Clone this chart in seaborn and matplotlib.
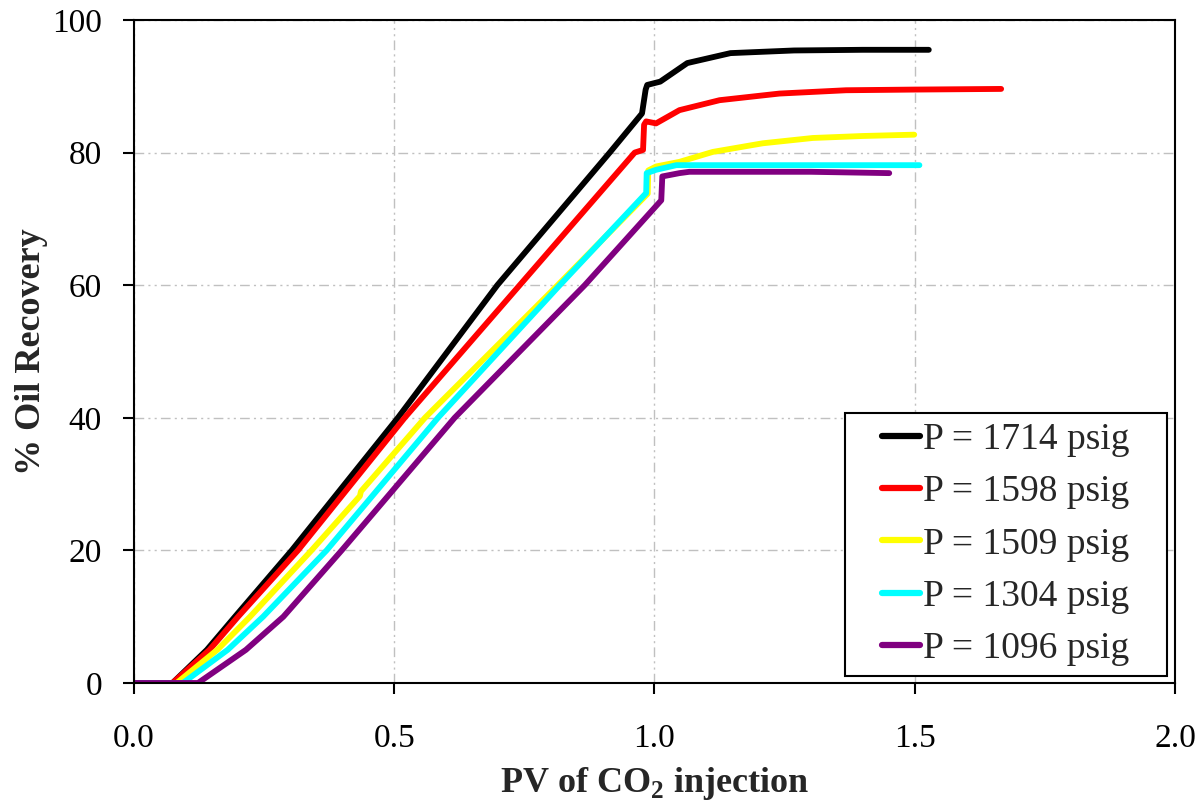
import pandas as pd
import seaborn as sns
import matplotlib.pyplot as plt
from matplotlib.path import Path

# Data (PV injected, % oil recovery)
pv_1714 = [0.0, 0.074, 0.14, 0.194, 0.303, 0.507, 0.698, 0.914, 0.976, 0.983, 0.986, 1.011, 1.063, 1.146, 1.268, 1.40, 1.527]
rec_1714 = [0.0, 0.0, 5.0, 10.0, 20.0, 40.0, 60.0, 80.0, 85.9, 89.5, 90.2, 90.7, 93.5, 95.0, 95.4, 95.5, 95.5]

pv_1598 = [0.0, 0.074, 0.145, 0.200, 0.315, 0.520, 0.741, 0.962, 0.978, 0.980, 0.984, 1.003, 1.048, 1.125, 1.240, 1.368, 1.496, 1.666]
rec_1598 = [0.0, 0.0, 5.0, 10.0, 20.0, 40.0, 60.0, 80.0, 80.4, 84.2, 84.7, 84.4, 86.4, 87.9, 88.9, 89.4, 89.5, 89.6]

pv_1509 = [0.0, 0.082, 0.16, 0.223, 0.341, 0.434, 0.436, 0.559, 0.814, 0.987, 0.988, 1.003, 1.048, 1.112, 1.208, 1.304, 1.40, 1.499]
rec_1509 = [0.0, 0.0, 5.0, 10.0, 20.0, 28.2, 28.9, 40.0, 60.0, 73.8, 77.3, 77.9, 78.6, 80.1, 81.4, 82.2, 82.5, 82.7]

pv_1304 = [0.0, 0.094, 0.18, 0.248, 0.370, 0.584, 0.818, 0.984, 0.985, 1.003, 1.042, 1.20, 1.509]
rec_1304 = [0.0, 0.0, 5.0, 10.0, 20.0, 40.0, 60.0, 73.9, 76.9, 77.4, 78.1, 78.1, 78.1]

pv_1096 = [0.0, 0.123, 0.215, 0.287, 0.399, 0.616, 0.866, 1.013, 1.015, 1.048, 1.067, 1.30, 1.451]
rec_1096 = [0.0, 0.0, 5.0, 10.0, 20.0, 40.0, 60.0, 72.8, 76.4, 76.9, 77.1, 77.1, 76.9]

labels = ['P = 1714 psig', 'P = 1598 psig', 'P = 1509 psig', 'P = 1304 psig', 'P = 1096 psig']
colors = ['#000000', '#ff0000', '#ffff00', '#00ffff', '#800080']

series = [(pv_1714, rec_1714), (pv_1598, rec_1598), (pv_1509, rec_1509),
          (pv_1304, rec_1304), (pv_1096, rec_1096)]
frames = []
for lab, (x, y) in zip(labels, series):
    frames.append(pd.DataFrame({'PV': x, 'Recovery': y, 'Pressure': lab}))
df = pd.concat(frames, ignore_index=True)

sns.set_style('ticks')
plt.rcParams['font.family'] = ['Liberation Serif', 'DejaVu Serif']
plt.rcParams['mathtext.fontset'] = 'custom'
plt.rcParams['mathtext.rm'] = 'Liberation Serif'
plt.rcParams['mathtext.bf'] = 'Liberation Serif:bold'

fig = plt.figure(figsize=(12.04, 8.02), dpi=100)
ax = fig.add_axes([0.1113, 0.1484, 0.8646, 0.8267])

sns.lineplot(data=df, x='PV', y='Recovery', hue='Pressure', hue_order=labels,
             palette=dict(zip(labels, colors)), sort=False, estimator=None,
             linewidth=4.2, ax=ax)

ax.set_xlim(0, 2.0)
ax.set_ylim(0, 100)
ax.set_xticks([0.0, 0.5, 1.0, 1.5, 2.0])
ax.set_xticklabels(['0.0', '0.5', '1.0', '1.5', '2.0'])
ax.set_yticks([0, 20, 40, 60, 80, 100])

ax.grid(True, color='#c0c0c0', linewidth=1.0, linestyle=(0, (7, 3, 1.5, 3, 1.5, 3)))
ax.set_axisbelow(True)
for s in ax.spines.values():
    s.set_visible(True)
    s.set_color('black')
    s.set_linewidth(1.5)
ax.tick_params(direction='out', length=8, width=1.5, labelsize=24, colors='black')
ax.tick_params(axis='x', pad=21)
ax.tick_params(axis='y', pad=15)

ax.set_xlabel(r'PV of CO$_{\mathbf{2}}$ injection', fontsize=26, fontweight='bold')
ax.set_ylabel('% Oil Recovery', fontsize=26, fontweight='bold')
ax.xaxis.set_label_coords(0.5, -0.124)
ax.yaxis.set_label_coords(-0.083, 0.5)


# legend frame with extra room on the left and right only
def wide_box(x0, y0, width, height, mutation_size):
    ex = 0.71 * mutation_size
    return Path([(x0 - ex, y0), (x0 + width + ex, y0), (x0 + width + ex, y0 + height),
                 (x0 - ex, y0 + height), (x0 - ex, y0)], closed=True)


leg = ax.legend(loc='lower right', bbox_to_anchor=(0.9665, 0.0106), borderaxespad=0,
                fontsize=27, frameon=True, fancybox=False, handlelength=1.0,
                handletextpad=0.1, borderpad=0.27, labelspacing=0.47)
leg.get_frame().set_boxstyle(wide_box)
leg.get_frame().set_edgecolor('black')
leg.get_frame().set_linewidth(1.5)
leg.get_frame().set_alpha(1)
for line in leg.get_lines():
    line.set_linewidth(4.5)
    line.set_solid_capstyle('round')

fig.savefig('out.png', dpi=100, facecolor='white')
